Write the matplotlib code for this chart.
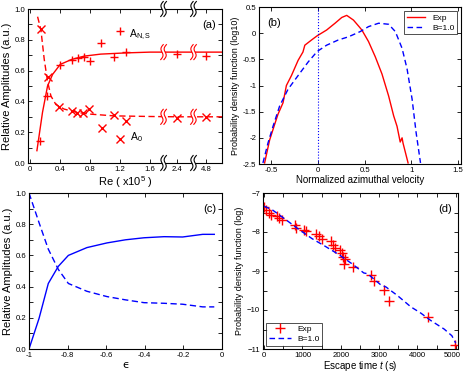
import numpy as np
import matplotlib
matplotlib.use('Agg')
import matplotlib.pyplot as plt
import matplotlib.transforms as mtransforms
from matplotlib.ticker import MultipleLocator, FixedLocator

plt.rcParams['font.family'] = ['Liberation Sans', 'DejaVu Sans']
plt.rcParams['mathtext.fontset'] = 'custom'
plt.rcParams['mathtext.rm'] = 'Liberation Sans'
plt.rcParams['mathtext.it'] = 'Liberation Sans:italic'
plt.rcParams['xtick.direction'] = 'in'
plt.rcParams['ytick.direction'] = 'in'

# ---------------- Panel (a) data ----------------
re_ns = [0.133, 0.222, 0.40, 0.551, 0.64, 0.72, 0.80, 0.942, 1.12, 1.20, 1.28, 2.4, 4.8]
amp_ns = [0.144, 0.435, 0.636, 0.668, 0.685, 0.69, 0.66, 0.78, 0.69, 0.86, 0.722, 0.711, 0.694]
re_0 = [0.142, 0.231, 0.39, 0.551, 0.62, 0.70, 0.79, 0.96, 1.12, 1.20, 1.28, 2.4, 4.8]
amp_0 = [0.87, 0.56, 0.366, 0.34, 0.323, 0.323, 0.35, 0.23, 0.31, 0.155, 0.274, 0.293, 0.30]
fit_re_ns = [0.089, 0.164, 0.231, 0.298, 0.40, 0.55, 0.72, 0.94, 1.28, 1.6, 2.4, 4.8, 6.1]
fit_ns = [0.08, 0.33, 0.50, 0.575, 0.64, 0.672, 0.694, 0.707, 0.715, 0.72, 0.72, 0.72, 0.72]
fit_re_0 = [0.098, 0.142, 0.187, 0.231, 0.276, 0.342, 0.453, 0.63, 0.81, 1.12, 1.6, 2.4, 4.8, 6.1]
fit_0 = [0.95, 0.866, 0.672, 0.53, 0.435, 0.38, 0.35, 0.328, 0.317, 0.306, 0.302, 0.30, 0.30, 0.30]
re_ticks = [0, 0.4, 0.8, 1.2, 1.6, 2.4, 4.8]
re_tick_labels = ['0', '0.4', '0.8', '1.2', '1.6', '2.4', '4.8']
# broken-axis mapping (real Re -> plotted position)
re_src = [0, 1.6, 2.4, 4.8, 6.1]
re_dst = [0, 1.6, 1.96, 2.35, 2.56]
re_breaks = [2.0, 3.75]  # real Re values where the axis is broken

# ---------------- Panel (b) data ----------------
vel_exp = [-0.57, -0.516, -0.462, -0.427, -0.373, -0.337, -0.283, -0.212, -0.16, -0.14, -0.068, -0.008,
           0.093, 0.183, 0.255, 0.308, 0.38, 0.44, 0.47, 0.541, 0.613, 0.685, 0.756, 0.81,
           0.846, 0.88, 0.9, 0.91, 0.964]
pdf_exp = [-2.48, -2.04, -1.74, -1.55, -1.33, -1.0, -0.81, -0.52, -0.36, -0.23, -0.13, -0.05,
           0.06, 0.19, 0.30, 0.34, 0.25, 0.125, 0.06, -0.16, -0.45, -0.78, -1.2, -1.58,
           -1.78, -2.08, -2.0, -2.1, -2.48]
vel_b = [-0.588, -0.534, -0.48, -0.409, -0.319, -0.212, -0.104, -0.008, 0.093, 0.218, 0.326,
         0.452, 0.541, 0.649, 0.756, 0.828, 0.9, 0.953, 1.007, 1.05, 1.097]
pdf_b = [-2.48, -2.1, -1.78, -1.39, -1.07, -0.81, -0.55, -0.35, -0.23, -0.13, -0.07,
         0.03, 0.125, 0.19, 0.17, 0.03, -0.29, -0.68, -1.26, -1.9, -2.48]

# ---------------- Panel (c) data ----------------
eps = [-1.0, -0.948, -0.9, -0.848, -0.796, -0.7, -0.596, -0.5, -0.404, -0.3, -0.204, -0.1, -0.04]
amp_c_solid = [0.0, 0.196, 0.42, 0.53, 0.60, 0.65, 0.68, 0.70, 0.713, 0.72, 0.718, 0.735, 0.735]
amp_c_dash = [1.0, 0.81, 0.64, 0.51, 0.42, 0.37, 0.336, 0.315, 0.297, 0.293, 0.287, 0.27, 0.27]

# ---------------- Panel (d) data ----------------
t_exp = [0, 40, 120, 170, 340, 400, 470, 800, 830, 1040, 1090, 1360, 1430, 1520, 1740, 1800,
         1850, 1980, 2030, 2060, 2110, 2080, 2310, 2780, 2880, 3120, 3260, 4270, 4970]
logp_exp = [-7.36, -7.43, -7.5, -7.56, -7.6, -7.64, -7.68, -7.81, -7.9, -7.94, -7.98, -8.04,
            -8.11, -8.18, -8.24, -8.33, -8.4, -8.47, -8.54, -8.65, -8.7, -8.81, -8.91, -9.09,
            -9.26, -9.48, -9.76, -10.19, -10.89]
t_b = [0, 210, 560, 900, 1250, 1600, 1950, 2300, 2600, 2700, 3050, 3180, 3480, 3830, 4090,
       4350, 4700, 4900, 5000]
logp_b = [-7.34, -7.43, -7.68, -7.93, -8.17, -8.37, -8.58, -8.82, -9.05, -9.07, -9.36, -9.41,
          -9.63, -9.92, -10.08, -10.27, -10.49, -10.66, -10.85]

RED = '#ff0000'
BLUE = '#0000ff'
TICK_FS = 5.6
LAB_FS = 8

W, H = 463, 372
fig = plt.figure(figsize=(W / 100, H / 100), dpi=100)


def px_axes(l, r, t, b):
    return fig.add_axes([l / W, 1 - b / H, (r - l) / W, (b - t) / H])


def style(ax):
    ax.tick_params(which='both', top=True, right=True, labelsize=TICK_FS, length=3, width=0.6, pad=2)
    for s in ax.spines.values():
        s.set_linewidth(0.8)


def remap(x):
    return np.interp(x, re_src, re_dst)


# ---------------- (a) ----------------
ax = px_axes(28, 222, 9, 163)
ax.plot(remap(fit_re_ns), fit_ns, '-', color=RED, lw=1.0)
ax.plot(remap(fit_re_0), fit_0, '--', color=RED, lw=1.0, dashes=(4.5, 2.5))
ax.plot(remap(re_ns), amp_ns, '+', color=RED, ms=6, mew=1.0, ls='none')
ax.plot(remap(re_0), amp_0, 'x', color=RED, ms=5.5, mew=1.0, ls='none')
ax.set_xlim(-0.03, 2.56)
ax.set_ylim(0, 1)
ax.set_xticks(remap(re_ticks))
ax.set_xticklabels(re_tick_labels)
ax.yaxis.set_major_locator(FixedLocator([0, 0.2, 0.4, 0.6, 0.8, 1.0]))
ax.set_yticklabels(['0.0', '0.2', '0.4', '0.6', '0.8', '1.0'])
ax.yaxis.set_minor_locator(MultipleLocator(0.1))
style(ax)
ax.tick_params(which='minor', length=3)
ax.set_xlabel(r'Re ( x10$^5$ )', fontsize=LAB_FS, labelpad=1)
ax.set_ylabel('Relative Amplitudes (a.u.)', fontsize=LAB_FS, labelpad=2)
ax.text(0.97, 0.93, '(a)', transform=ax.transAxes, ha='right', va='top', fontsize=LAB_FS)
ax.text(remap(1.32), 0.83, r'A$_{\rm N,S}$', color='black', fontsize=7.5, va='center')
ax.text(remap(1.33), 0.17, r'A$_{\rm 0}$', color='black', fontsize=7.5, va='center')

x0, x1 = ax.get_xlim()


def draw_break(xb, ya, color):
    xa = (remap(xb) - x0) / (x1 - x0)
    t = np.linspace(0, 1, 40)
    h = 7.5 / 154
    a = 1.6 / 194
    g = 3.2 / 194
    sl = 2.5 / 194
    yy = ya + h * (2 * t - 1)
    xl = xa - g / 2 + a * np.sin(2 * np.pi * t) + sl * (t - 0.5)
    xr = xa + g / 2 + a * np.sin(2 * np.pi * t) + sl * (t - 0.5)
    ax.fill(np.concatenate([xl, xr[::-1]]), np.concatenate([yy, yy[::-1]]),
            color='white', transform=ax.transAxes, clip_on=False, zorder=5, lw=0)
    ax.plot(xl, yy, color=color, lw=0.8, transform=ax.transAxes, clip_on=False, zorder=6)
    ax.plot(xr, yy, color=color, lw=0.8, transform=ax.transAxes, clip_on=False, zorder=6)


for xb in re_breaks:
    draw_break(xb, 0.0, 'black')
    draw_break(xb, 1.0, 'black')
    draw_break(xb, 0.72, RED)
    draw_break(xb, 0.30, RED)

# ---------------- (b) ----------------
ax = px_axes(259, 461, 7, 164)
ax.plot(vel_exp, pdf_exp, '-', color=RED, lw=1.0, label='Exp')
ax.plot(vel_b, pdf_b, '--', color=BLUE, lw=1.0, dashes=(4, 2.5), label='B=1.0')
ax.axvline(0, color=BLUE, ls=':', lw=0.8)
ax.set_xlim(-0.63, 1.53)
ax.set_ylim(-2.5, 0.5)
ax.set_xticks([-0.5, 0, 0.5, 1, 1.5])
ax.set_xticklabels(['-0.5', '0', '0.5', '1', '1.5'])
ax.set_yticks([-2.5, -2, -1.5, -1, -0.5, 0, 0.5])
ax.set_yticklabels(['-2.5', '-2', '-1.5', '-1', '-0.5', '0', '0.5'])
style(ax)
ax.set_xlabel('Normalized azimuthal velocity', fontsize=7, labelpad=1)
ax.set_ylabel('Probability density function (log10)', fontsize=6.5, labelpad=2)
ax.text(0.04, 0.93, '(b)', transform=ax.transAxes, ha='left', va='top', fontsize=LAB_FS)
leg = ax.legend(loc='upper right', fontsize=6, frameon=True, fancybox=False,
                edgecolor='black', handlelength=2.2, borderpad=0.3, labelspacing=0.3,
                handletextpad=0.8, borderaxespad=0.5)
leg.get_frame().set_linewidth(0.6)

# ---------------- (c) ----------------
ax = px_axes(29, 222, 193, 349)
ax.plot(eps, amp_c_solid, '-', color=BLUE, lw=1.0)
ax.plot(eps, amp_c_dash, '--', color=BLUE, lw=1.0, dashes=(4.5, 2.5))
ax.set_xlim(-1, 0)
ax.set_ylim(0, 1)
ax.set_xticks([-1, -0.8, -0.6, -0.4, -0.2, 0])
ax.set_xticklabels(['-1', '-0.8', '-0.6', '-0.4', '-0.2', '0'])
ax.yaxis.set_major_locator(FixedLocator([0, 0.2, 0.4, 0.6, 0.8, 1.0]))
ax.set_yticklabels(['0.0', '0.2', '0.4', '0.6', '0.8', '1.0'])
ax.yaxis.set_minor_locator(MultipleLocator(0.1))
style(ax)
ax.set_xlabel('\u03f5', fontsize=LAB_FS, labelpad=1, family=['DejaVu Sans'])
ax.set_ylabel('Relative Amplitudes (a.u.)', fontsize=LAB_FS, labelpad=2)
ax.text(0.97, 0.93, '(c)', transform=ax.transAxes, ha='right', va='top', fontsize=LAB_FS)

# ---------------- (d) ----------------
ax = px_axes(263, 458, 193, 349)
ax.plot(t_exp, logp_exp, '+', color=RED, ms=7, mew=1.0, ls='none', label='Exp')
ax.plot(t_b, logp_b, '--', color=BLUE, lw=1.0, dashes=(4, 2.5), label='B=1.0')
ax.set_xlim(-30, 5060)
ax.set_ylim(-11, -7)
ax.set_xticks([0, 1000, 2000, 3000, 4000, 5000])
ax.xaxis.set_minor_locator(MultipleLocator(500))
ax.set_yticks([-11, -10, -9, -8, -7])
ax.yaxis.set_minor_locator(MultipleLocator(0.5))
style(ax)
fig.canvas.draw()
last = ax.get_xticklabels()[-1]
last.set_transform(last.get_transform() + mtransforms.ScaledTranslation(-3 / 100, 0, fig.dpi_scale_trans))
ax.set_xlabel(r'Escape time $\it{t}$ (s)', fontsize=7, labelpad=0)
ax.set_ylabel('Probability density function (log)', fontsize=6.5, labelpad=2)
ax.text(0.97, 0.93, '(d)', transform=ax.transAxes, ha='right', va='top', fontsize=LAB_FS)
leg = ax.legend(loc='lower left', fontsize=6, frameon=True, fancybox=False,
                edgecolor='black', handlelength=2.6, borderpad=0.3, labelspacing=0.3,
                handletextpad=0.8, borderaxespad=0.4)
leg.get_frame().set_linewidth(0.6)

fig.savefig('out.png', dpi=100)
